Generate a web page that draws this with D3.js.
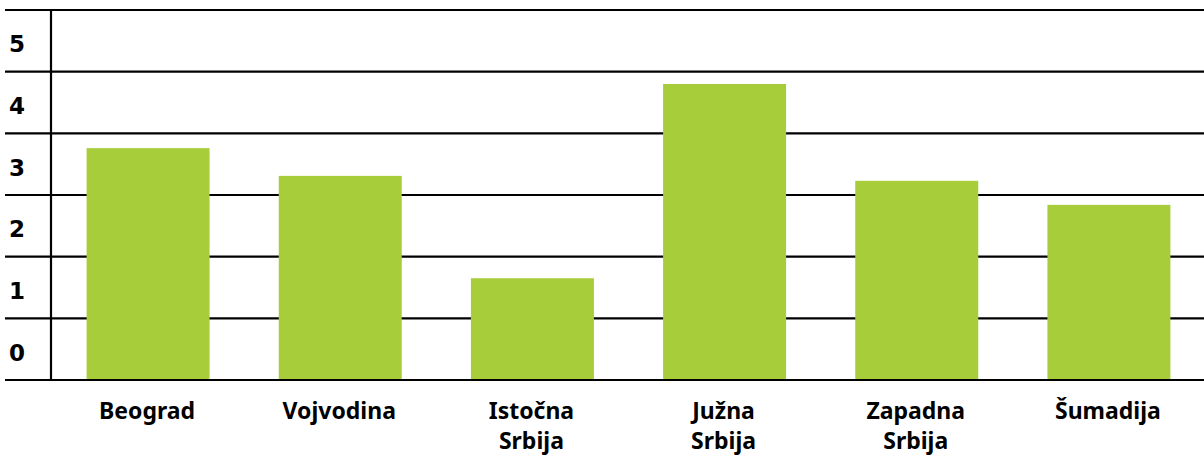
<!DOCTYPE html>
<html>
<head>
<meta charset="utf-8">
<script src="https://cdn.jsdelivr.net/npm/d3@7"></script>
<style>
  body { margin: 0; background: #fff; }
  text { font-family: "Noto Sans", "DejaVu Sans", sans-serif; font-weight: 700; fill: #000; }
</style>
</head>
<body>
<div id="chart"></div>
<script>
// regions and their values
var regions = ["Beograd", "Vojvodina", "Istočna Srbija", "Južna Srbija", "Zapadna Srbija", "Šumadija"];
var values = [3.76, 3.31, 1.65, 4.8, 3.23, 2.84];
var yTicks = [0, 1, 2, 3, 4, 5, 6];
var yLabels = ["0", "1", "2", "3", "4", "5"];

function Barchart() {
  var w = 1204;
  var h = 456;
  var left = 51, top = 10, bottom = 380;

  var svg = d3.select("#chart")
    .append("svg")
    .attr("width", w)
    .attr("height", h);

  var xScale = d3.scaleBand()
    .domain(regions)
    .range([left, w])
    .paddingInner(0.36)
    .paddingOuter(0.18);

  var yScale = d3.scaleLinear()
    .domain([0, 6])
    .range([bottom, top]);

  // horizontal grid lines
  svg.selectAll("line.grid")
    .data(yTicks)
    .enter()
    .append("line")
    .attr("class", "grid")
    .attr("x1", 5)
    .attr("x2", w)
    .attr("y1", function (d) { return yScale(d); })
    .attr("y2", function (d) { return yScale(d); })
    .attr("stroke", "#000")
    .attr("stroke-width", 2.2);

  // bars
  svg.selectAll("rect")
    .data(values)
    .enter()
    .append("rect")
    .attr("x", function (d, i) { return xScale(regions[i]) + 1; })
    .attr("y", function (d) { return yScale(d); })
    .attr("width", xScale.bandwidth())
    .attr("height", function (d) { return bottom - yScale(d) - 1; })
    .attr("fill", "#a7cd3a");

  // vertical axis line
  svg.append("line")
    .attr("x1", left).attr("x2", left)
    .attr("y1", top).attr("y2", bottom)
    .attr("stroke", "#000")
    .attr("stroke-width", 2.2);

  // y labels sit in the middle of each band
  svg.selectAll("text.ylab")
    .data(yLabels)
    .enter()
    .append("text")
    .attr("class", "ylab")
    .attr("x", 9)
    .attr("y", function (d) { return yScale(+d + 0.45); })
    .attr("dy", "0.36em")
    .style("font-family", "'DejaVu Sans', sans-serif")
    .style("font-weight", "700")
    .style("font-size", "23px")
    .text(function (d) { return d; });

  // category labels, wrapped at the space
  var lab = svg.selectAll("text.xlab")
    .data(regions)
    .enter()
    .append("text")
    .attr("class", "xlab")
    .attr("text-anchor", "middle")
    .attr("x", function (d) { return xScale(d) + xScale.bandwidth() / 2; })
    .attr("y", 419)
    .style("font-size", "23px");

  lab.each(function (d) {
    var parts = d.indexOf("Srbija") > 0 ? [d.replace(" Srbija", ""), "Srbija"] : [d];
    var t = d3.select(this);
    parts.forEach(function (p, j) {
      t.append("tspan")
        .attr("x", t.attr("x"))
        .attr("dy", j === 0 ? 0 : 30)
        .text(p);
    });
  });
}
window.onload = Barchart;
</script>
</body>
</html>
